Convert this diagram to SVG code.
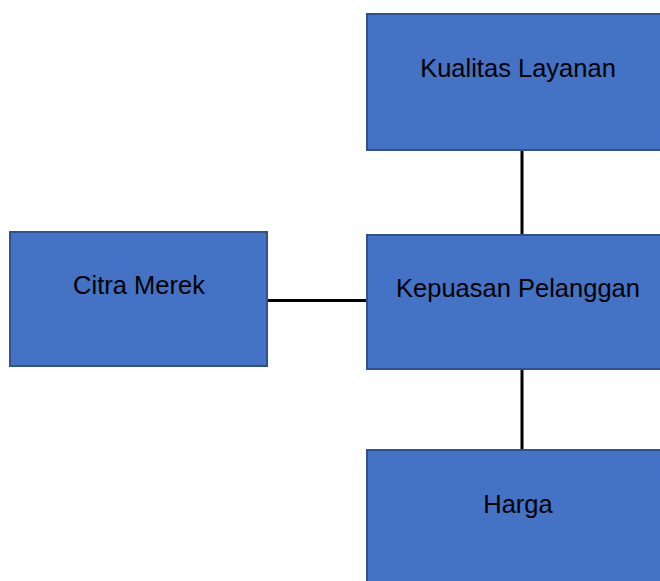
<svg xmlns="http://www.w3.org/2000/svg" width="660" height="581" viewBox="0 0 660 581">
<style>
.box{fill:#4472C4;stroke:#2F528F;stroke-width:2}
.lbl{font-family:"Liberation Sans",Arial,sans-serif;font-size:25.5px;fill:#000;text-anchor:middle}
.conn{stroke:#000;stroke-width:3;fill:none}
</style>
<rect width="660" height="581" fill="#fff"/>
<g id="connectors">
<line class="conn" x1="522" y1="151" x2="522" y2="235"/>
<line class="conn" x1="268" y1="300.5" x2="367" y2="300.5"/>
<line class="conn" x1="522" y1="369" x2="522" y2="450"/>
</g>
<g id="kualitas">
<rect class="box" x="367" y="14" width="302" height="136"/>
<text class="lbl" x="518" y="77">Kualitas Layanan</text>
</g>
<g id="citra">
<rect class="box" x="10" y="232" width="257" height="134"/>
<text class="lbl" x="139" y="294">Citra Merek</text>
</g>
<g id="kepuasan">
<rect class="box" x="367" y="235" width="302" height="134"/>
<text class="lbl" x="518" y="297">Kepuasan Pelanggan</text>
</g>
<g id="harga">
<rect class="box" x="367" y="450" width="302" height="140"/>
<text class="lbl" x="518" y="513">Harga</text>
</g>
</svg>
